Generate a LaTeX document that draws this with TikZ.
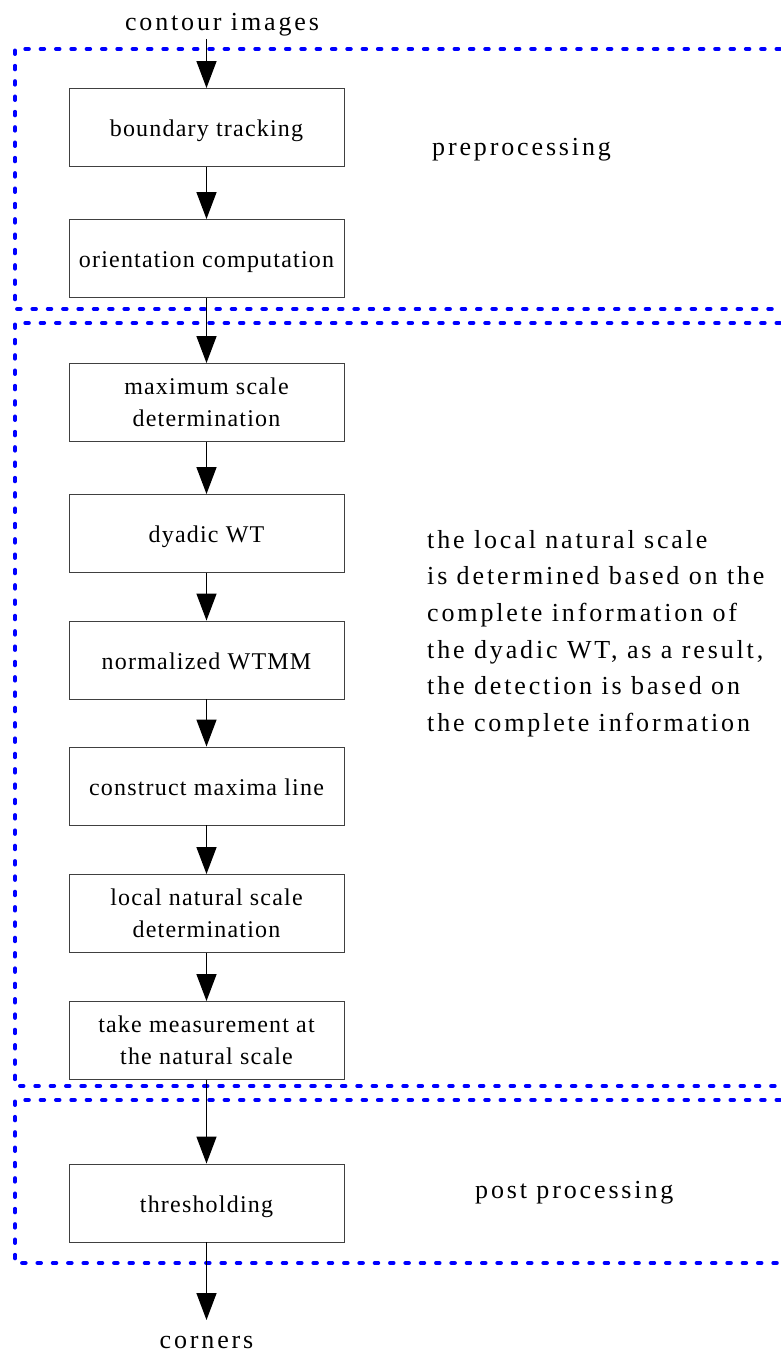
\documentclass[tikz,border=0pt]{standalone}
\usepackage{fontspec}
\setmainfont{Liberation Serif}[LetterSpace=11]
\newfontfamily\boxfont{Liberation Serif}[LetterSpace=5]
\usetikzlibrary{arrows.meta}
\begin{document}
\begin{tikzpicture}[x=1pt,y=-1pt,
  stepbox/.style={draw=black!75, line width=0.9pt, minimum width=275pt,
    minimum height=78pt, inner sep=0pt, font=\boxfont\fontsize{24}{32}\selectfont},
  onebox/.style={stepbox, text height=24pt, text depth=6pt},
  twobox/.style={stepbox, align=center},
  flow/.style={-{Triangle[width=20pt,length=27pt]}, line width=1.4pt},
  region/.style={draw=blue, line width=4pt, dash pattern=on 3.5pt off 11.83pt,
    line cap=round},
  caption/.style={inner sep=0pt, font=\fontsize{26}{36.6}\selectfont}]

% page
\fill[white] (0,0) rectangle (780,1354);
\useasboundingbox (0,0) rectangle (780,1354);

% stage frames, open to the right
\draw[region] (780,49) -- (15,49) -- (15,309) -- (780,309);
\draw[region] (780,323) -- (15,323) -- (15,1086) -- (780,1086);
\draw[region] (780,1100) -- (15,1100) -- (15,1263) -- (780,1263);

% processing steps
\node[onebox] (b1) at (206.5,127.5) {boundary tracking};
\node[onebox] (b2) at (206.5,258.5) {orientation computation};
\node[twobox] (b3) at (206.5,402.5) {maximum scale\\determination};
\node[onebox] (b4) at (206.5,533.5) {dyadic WT};
\node[onebox] (b5) at (206.5,660) {normalized WTMM};
\node[onebox] (b6) at (206.5,786) {construct maxima line};
\node[twobox] (b7) at (206.5,913.5) {local natural scale\\determination};
\node[twobox] (b8) at (206.5,1040.5) {take measurement at\\the natural scale};
\node[onebox] (b9) at (206.5,1203) {thresholding};

% input, output and stage captions
\node[caption, anchor=base] (src) at (222,31) {contour images};
\node[caption, anchor=base] (dst) at (206.5,1348) {corners};
\coordinate (tip) at (206.5,1320);
\node[caption, anchor=base west] (pre) at (432,155) {preprocessing};
\node[caption, anchor=base west] (post) at (475,1198) {post processing};
\node[caption, anchor=north west, align=left] (note) at (427,530)
  {the local natural scale\\is determined based on the\\complete information of\\the dyadic WT, as a result,\\the detection is based on\\the complete information};

% flow
\draw[flow] (src.south -| b1.north) ++(0,2) -- (b1.north);
\draw[flow] (b1) -- (b2);
\draw[flow] (b2) -- (b3);
\draw[flow] (b3) -- (b4);
\draw[flow] (b4) -- (b5);
\draw[flow] (b5) -- (b6);
\draw[flow] (b6) -- (b7);
\draw[flow] (b7) -- (b8);
\draw[flow] (b8) -- (b9);
\draw[flow] (b9) -- (tip);
\end{tikzpicture}
\end{document}
